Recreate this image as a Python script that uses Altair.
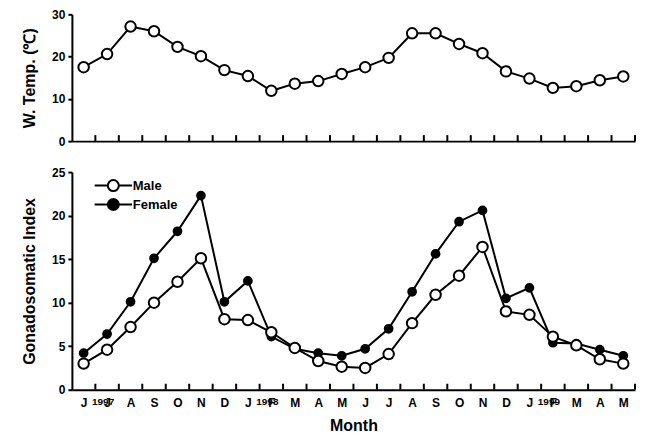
import altair as alt
import pandas as pd

months = ["J", "J", "A", "S", "O", "N", "D", "J", "F", "M", "A", "M",
          "J", "J", "A", "S", "O", "N", "D", "J", "F", "M", "A", "M"]
temp = [17.5, 20.6, 27.1, 26.0, 22.3, 20.1, 16.8, 15.4, 11.9, 13.6, 14.2, 15.9,
        17.5, 19.7, 25.5, 25.5, 23.0, 20.8, 16.5, 14.8, 12.6, 13.0, 14.4, 15.3]
male = [3.0, 4.6, 7.2, 10.0, 12.4, 15.1, 8.1, 8.0, 6.6, 4.8, 3.3, 2.65,
        2.5, 4.1, 7.65, 10.9, 13.1, 16.4, 9.0, 8.6, 6.1, 5.1, 3.5, 3.0]
female = [4.2, 6.4, 10.1, 15.1, 18.2, 22.3, 10.1, 12.5, 6.1, 4.7, 4.2, 3.9,
          4.7, 7.0, 11.25, 15.6, 19.3, 20.6, 10.5, 11.7, 5.4, 5.3, 4.6, 3.9]
years = ["1997", "1998", "1999"]
year_idx = [1, 8, 20]

idx = list(range(len(months)))
tick_pos = [i + 0.5 for i in idx]

FONT = "Liberation Sans"
W = 564
H1 = 127
H2 = 218

xscale = alt.Scale(domain=[-0.5, 23.5], nice=False, zero=False)
label_expr = "[" + ",".join("'" + m + "'" for m in months) + "][datum.value]"

df_t = pd.DataFrame({"i": idx, "temp": temp})
df_m = pd.DataFrame({"i": idx, "gsi": male, "sex": "Male"})
df_f = pd.DataFrame({"i": idx, "gsi": female, "sex": "Female"})
df_ticks = pd.DataFrame({"i": tick_pos})
df_years = pd.DataFrame({"i": year_idx, "year": years})


def yaxis(vals, title):
    return alt.Axis(values=vals, title=title, grid=False, tickSize=4, tickWidth=2,
                    domainWidth=2, domainColor="black", tickColor="black",
                    labelFont=FONT, labelFontSize=12, labelFontWeight="bold",
                    labelColor="black", labelPadding=3,
                    titleFont=FONT, titleFontSize=16, titleFontWeight="bold",
                    titleColor="black", titlePadding=14)


# ---------- top panel ----------
top_xaxis = alt.Axis(labels=False, tickSize=0, tickColor="white", title=None, grid=False,
                     domainWidth=2, domainColor="black")
x_top = alt.X("i:Q", scale=xscale, axis=top_xaxis)
yt = alt.Y("temp:Q", scale=alt.Scale(domain=[0, 30], nice=False),
           axis=yaxis([0, 10, 20, 30], "W. Temp. (\u2103)"))

base_t = alt.Chart(df_t)
top_ticks = alt.Chart(df_ticks).mark_rule(color="black", strokeWidth=2).encode(
    x=x_top, y=alt.value(H1), y2=alt.value(H1 - 6))
top_line = base_t.mark_line(color="black", strokeWidth=2).encode(x=x_top, y=yt)
top_pts = base_t.mark_point(shape="circle", filled=True, fill="white", stroke="black",
                            strokeWidth=2, size=110, opacity=1).encode(x=x_top, y=yt)
top = alt.layer(top_ticks, top_line, top_pts).properties(width=W, height=H1)

# ---------- bottom panel ----------
bot_xaxis = alt.Axis(values=idx, labelExpr=label_expr, tickSize=0, tickColor="white",
                     grid=False, domainWidth=2, domainColor="black",
                     labelFont=FONT, labelFontSize=12, labelFontWeight="bold",
                     labelColor="black", labelPadding=8, labelFlush=False,
                     labelOverlap=False,
                     title="Month", titleFont=FONT, titleFontSize=16,
                     titleFontWeight="bold", titleColor="black", titlePadding=9)
x_bot = alt.X("i:Q", scale=xscale, axis=bot_xaxis)
yg = alt.Y("gsi:Q", scale=alt.Scale(domain=[0, 25], nice=False),
           axis=yaxis([0, 5, 10, 15, 20, 25], "Gonadosomatic Index"))

sym_path = "M-3.4,0L-1,0M1,0L3.4,0M-1,0A1,1 0 1,0 1,0A1,1 0 1,0 -1,0Z"
leg = alt.Legend(title=None, orient="none", legendX=35, legendY=165,
                 symbolType=sym_path, symbolSize=121,
                 symbolStrokeColor="black", symbolStrokeWidth=2,
                 labelFont=FONT, labelFontSize=13, labelFontWeight="bold",
                 labelColor="black", labelOffset=13, rowPadding=0)
fill_enc = alt.Fill("sex:N", scale=alt.Scale(domain=["Male", "Female"], range=["white", "black"]),
                    legend=leg)

bot_ticks = alt.Chart(df_ticks).mark_rule(color="black", strokeWidth=2).encode(
    x=x_bot, y=alt.value(H2), y2=alt.value(H2 - 6))
f_line = alt.Chart(df_f).mark_line(color="black", strokeWidth=2).encode(x=x_bot, y=yg)
m_line = alt.Chart(df_m).mark_line(color="black", strokeWidth=2).encode(x=x_bot, y=yg)
f_pts = alt.Chart(df_f).mark_point(shape="circle", filled=True, stroke="black",
                                   strokeWidth=2, size=60, opacity=1).encode(
    x=x_bot, y=yg, fill=fill_enc)
m_pts = alt.Chart(df_m).mark_point(shape="circle", filled=True, stroke="black",
                                   strokeWidth=2, size=110, opacity=1).encode(
    x=x_bot, y=yg, fill=fill_enc)
bot_years = alt.Chart(df_years).mark_text(font=FONT, fontSize=10, fontWeight="bold",
                                          color="black", dx=-4, baseline="middle").encode(
    x=x_bot, y=alt.value(H2 + 12), text="year:N")
bottom = alt.layer(bot_ticks, f_line, m_line, f_pts, m_pts, bot_years).properties(
    width=W, height=H2)

chart = alt.vconcat(top, bottom, spacing=31, bounds="flush").properties(
    padding={"left": 13, "top": 0, "right": 2, "bottom": 0}
).configure_view(strokeWidth=0)

chart.save("out.html", embed_options={"renderer": "svg", "actions": False})
